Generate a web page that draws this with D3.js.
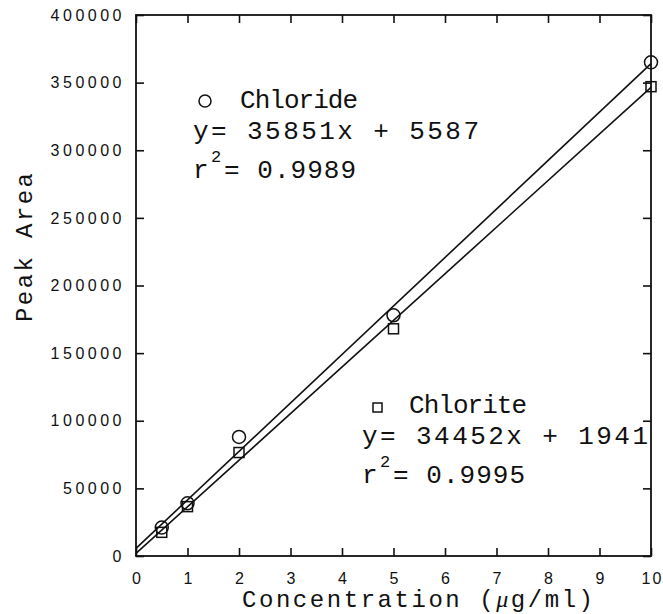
<!DOCTYPE html>
<meta charset="utf-8" />
<style>
  body { margin: 0; background: #fff; }
  text { fill: #111; }
</style>
<svg width="663" height="614"></svg>
<script src="https://cdn.jsdelivr.net/npm/d3@7/dist/d3.min.js"></script>
<script>
    // data
    var xTicks = [0, 1, 2, 3, 4, 5, 6, 7, 8, 9, 10];
    var yTicks = [0, 50000, 100000, 150000, 200000, 250000, 300000, 350000, 400000];

    var conc = [0.5, 1, 2, 5, 10];
    var chloride = [21000, 39000, 88000, 178000, 365000];
    var chlorite = [17500, 36500, 76500, 168000, 347000];

    // fitted lines: slope, intercept
    var chlorideFit = [35851, 5587];
    var chloriteFit = [34452, 1941];

    var svg = d3.select("svg");
    // plot box edges (note: "top" is taken by window.top)
    var pLeft = 136, pRight = 651, pTop = 15, pBottom = 556;

    var x = d3.scaleLinear().domain([0, 10]).range([pLeft, pRight]);
    var y = d3.scaleLinear().domain([0, 400000]).range([pBottom, pTop]);

    var tickFont = "'Liberation Sans', Arial, sans-serif";
    var monoFont = "'Liberation Mono', 'Courier New', monospace";

    // axes, ticks pointing inward on all sides
    var gx = svg.append("g")
        .attr("transform", "translate(0," + pBottom + ")")
        .call(d3.axisBottom(x).tickValues(xTicks).tickSize(-8).tickSizeOuter(0).tickPadding(17));
    var gy = svg.append("g")
        .attr("transform", "translate(" + pLeft + ",0)")
        .call(d3.axisLeft(y).tickValues(yTicks).tickSize(-8).tickSizeOuter(0).tickPadding(11).tickFormat(d3.format("d")));
    svg.append("g")
        .attr("transform", "translate(0," + pTop + ")")
        .call(d3.axisTop(x).tickValues(xTicks).tickSize(-8).tickSizeOuter(0).tickFormat(""));
    svg.append("g")
        .attr("transform", "translate(" + pRight + ",0)")
        .call(d3.axisRight(y).tickValues(yTicks).tickSize(-8).tickSizeOuter(0).tickFormat(""));

    svg.selectAll(".domain").remove();
    svg.selectAll(".tick line").attr("stroke", "#111").attr("stroke-width", 1.6);
    svg.selectAll(".tick text")
        .attr("fill", "#111")
        .style("font-family", tickFont)
        .style("font-size", "16px")
        .style("letter-spacing", "3.5px");
    gx.selectAll(".tick text").style("letter-spacing", "2px").attr("dx", 1);

    // frame
    svg.append("rect")
        .attr("x", pLeft).attr("y", pTop)
        .attr("width", pRight - pLeft).attr("height", pBottom - pTop)
        .attr("fill", "none").attr("stroke", "#111").attr("stroke-width", 1.8);

    // regression lines
    var line = d3.line().x(d => x(d[0])).y(d => y(d[1]));
    [chlorideFit, chloriteFit].forEach(function (f) {
        svg.append("path")
            .datum([[0, f[1]], [10, f[0] * 10 + f[1]]])
            .attr("d", line)
            .attr("fill", "none").attr("stroke", "#111").attr("stroke-width", 1.6);
    });

    // points
    svg.append("g").selectAll("circle")
        .data(conc)
        .enter().append("circle")
        .attr("cx", (d, i) => x(d))
        .attr("cy", (d, i) => y(chloride[i]))
        .attr("r", 6.5)
        .attr("fill", "none").attr("stroke", "#111").attr("stroke-width", 1.5);

    svg.append("g").selectAll("rect")
        .data(conc)
        .enter().append("rect")
        .attr("x", (d, i) => x(d) - 5)
        .attr("y", (d, i) => y(chlorite[i]) - 5)
        .attr("width", 10).attr("height", 10)
        .attr("fill", "none").attr("stroke", "#111").attr("stroke-width", 1.5);

    // axis titles
    var xt = svg.append("text")
        .attr("x", 242).attr("y", 607)
        .attr("textLength", 351).attr("lengthAdjust", "spacing")
        .style("font-family", monoFont).style("font-size", "24px");
    xt.append("tspan").text("Concentration (");
    xt.append("tspan").style("font-style", "italic").style("font-family", "'Liberation Serif', serif").text("μ");
    xt.append("tspan").text("g/ml)");

    svg.append("text")
        .attr("transform", "translate(32,322) rotate(-90)")
        .attr("textLength", 149).attr("lengthAdjust", "spacing")
        .style("font-family", monoFont).style("font-size", "24px")
        .text("Peak Area");

    // annotations
    function legend(x0, y0, marker, name, eq, r2) {
        var g = svg.append("g").style("font-family", monoFont).style("font-size", "26px");
        if (marker == "circle") {
            g.append("circle").attr("cx", x0 + 12).attr("cy", y0 - 7).attr("r", 6)
                .attr("fill", "none").attr("stroke", "#111").attr("stroke-width", 1.5);
        } else {
            g.append("rect").attr("x", x0 + 11).attr("y", y0 - 10).attr("width", 9).attr("height", 9)
                .attr("fill", "none").attr("stroke", "#111").attr("stroke-width", 1.5);
        }
        g.append("text").attr("x", x0 + 47).attr("y", y0)
            .attr("textLength", 118).attr("lengthAdjust", "spacing").text(name);
        g.append("text").attr("x", x0).attr("y", y0 + 31)
            .attr("textLength", 286).attr("lengthAdjust", "spacing").text(eq);
        g.append("text").attr("x", x0).attr("y", y0 + 70).text("r");
        g.append("text").attr("x", x0 + 18).attr("y", y0 + 54)
            .style("font-size", "17px").text("2");
        g.append("text").attr("x", x0 + 31).attr("y", y0 + 70)
            .attr("textLength", 132).attr("lengthAdjust", "spacing").text(r2);
    }
    legend(193, 108, "circle", "Chloride", "y= 35851x + 5587", "= 0.9989");
    legend(362, 413, "square", "Chlorite", "y= 34452x + 1941", "= 0.9995");
</script>
